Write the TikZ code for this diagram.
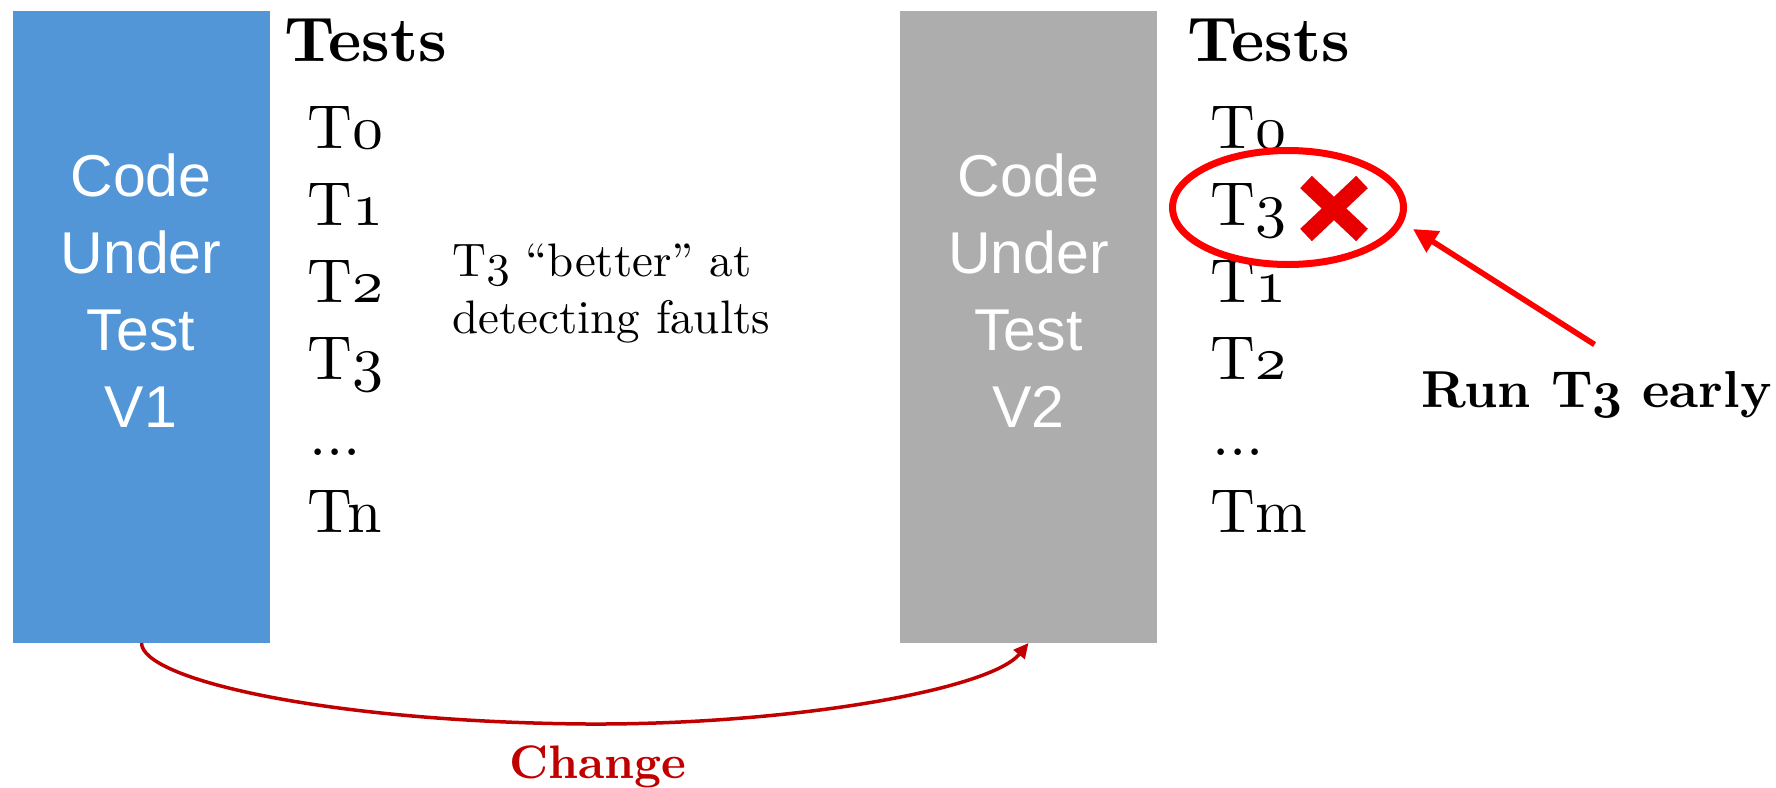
\documentclass[tikz,border=0pt]{standalone}
\usepackage{fontspec}
% the 10pt design of Latin Modern, scaled, for all serif text
\setmainfont{lmroman10-regular.otf}[BoldFont=lmroman10-bold.otf]
\newfontfamily\boxfont{Liberation Sans}
\usetikzlibrary{arrows.meta,shapes.geometric}
% scalable math italic, used for old-style figures at large sizes
\DeclareFontShape{OML}{cmm}{m}{it}{<->cmmi10}{}
\DeclareFontShape{OML}{cmm}{b}{it}{<->cmmib10}{}
\definecolor{codeblue}{RGB}{82,150,216}
\definecolor{codegray}{RGB}{173,173,173}
\definecolor{changered}{RGB}{192,0,0}
\definecolor{markred}{RGB}{255,0,0}
\definecolor{crossred}{RGB}{232,0,0}
% old-style figures taken from the math italic font
\newcommand\osn[1]{\ensuremath{\mathnormal{#1}}}
\begin{document}
\begin{tikzpicture}[x=0.5pt,y=-0.5pt,
  codebox/.style={inner sep=0,outer sep=0,anchor=north west,
    minimum width=128.5pt,minimum height=316pt},
  boxtext/.style={inner sep=0,anchor=north,align=center,text=white,
    font=\boxfont\fontsize{29.5}{38.5}\selectfont},
  head/.style={inner sep=0,anchor=base west,
    font=\bfseries\fontsize{31.5}{36}\selectfont},
  item/.style={inner sep=0,anchor=base west,
    font=\fontsize{31}{38}\selectfont},
  note/.style={inner sep=0,anchor=base west,
    font=\fontsize{23.5}{28.5}\selectfont},
  runlbl/.style={inner sep=0,anchor=base west,
    font=\bfseries\boldmath\fontsize{26}{30}\selectfont},
  changelbl/.style={inner sep=0,anchor=base,text=changered,
    font=\bfseries\fontsize{23.5}{28}\selectfont},
  changearrow/.style={draw=changered,line width=1.75pt,
    -{Triangle[length=7.5pt,width=7pt]}},
  markarrow/.style={draw=markred,line width=2.8pt,
    -{Triangle[length=12pt,width=12pt]}},
  crossline/.style={draw=crossred,line width=8.5pt,line cap=butt}]
\useasboundingbox (0,0) rectangle (1776,787);

% code boxes
\node[codebox,fill=codeblue] (v1) at (13,11) {};
\node[codebox,fill=codegray] (v2) at (900,11) {};
\node[boxtext] (v1txt) at (141,153) {Code\\Under\\Test\\V1};
\node[boxtext] (v2txt) at (1028.5,153) {Code\\Under\\Test\\V2};

% test list for V1
\node[head] (h1) at (284,61) {Tests};
\node[item] (a0) at (307,148) {T\osn{0}};
\node[item] (a1) at (307,225) {T\osn{1}};
\node[item] (a2) at (307,302) {T\osn{2}};
\node[item] (a3) at (307,379) {T\osn{3}};
\node[item] (a4) at (309,455) {...};
\node[item] (a5) at (307,532) {Tn};

% remark in the middle
\node[note] (m1) at (452,276) {T\osn{3} “better” at};
\node[note] (m2) at (452,333) {detecting faults};

% test list for V2 (reordered)
\node[head] (h2) at (1187,61) {Tests};
\node[item] (b0) at (1210,148) {T\osn{0}};
\node[item] (b3) at (1210,225) {T\osn{3}};
\node[item] (b1) at (1210,302) {T\osn{1}};
\node[item] (b2) at (1210,379) {T\osn{2}};
\node[item] (b4) at (1212,455) {...};
\node[item] (b5) at (1210,532) {Tm};

% failing mark next to T3
\draw[crossline] (1306,182) -- (1362,235);
\draw[crossline] (1362,182) -- (1306,235);

% highlight of T3 and its callout
\node[ellipse,draw=markred,line width=3.5pt,inner sep=0,
  minimum width=115.5pt,minimum height=57pt] (hl) at (1288,207.5) {};
\node[runlbl] (run) at (1421,407) {Run T\osn{3} early};
\coordinate (tip) at (1413,229);
\draw[markarrow] ([shift={(-2,-26)}]run.north) -- (tip);

% change from V1 to V2
\draw[changearrow] (v1.south) .. controls (142,680) and (330,722) .. (587,724)
  .. controls (790,725) and (990,690) .. (v2.south);
\node[changelbl] (chg) at (598,778) {Change};
\end{tikzpicture}
\end{document}
